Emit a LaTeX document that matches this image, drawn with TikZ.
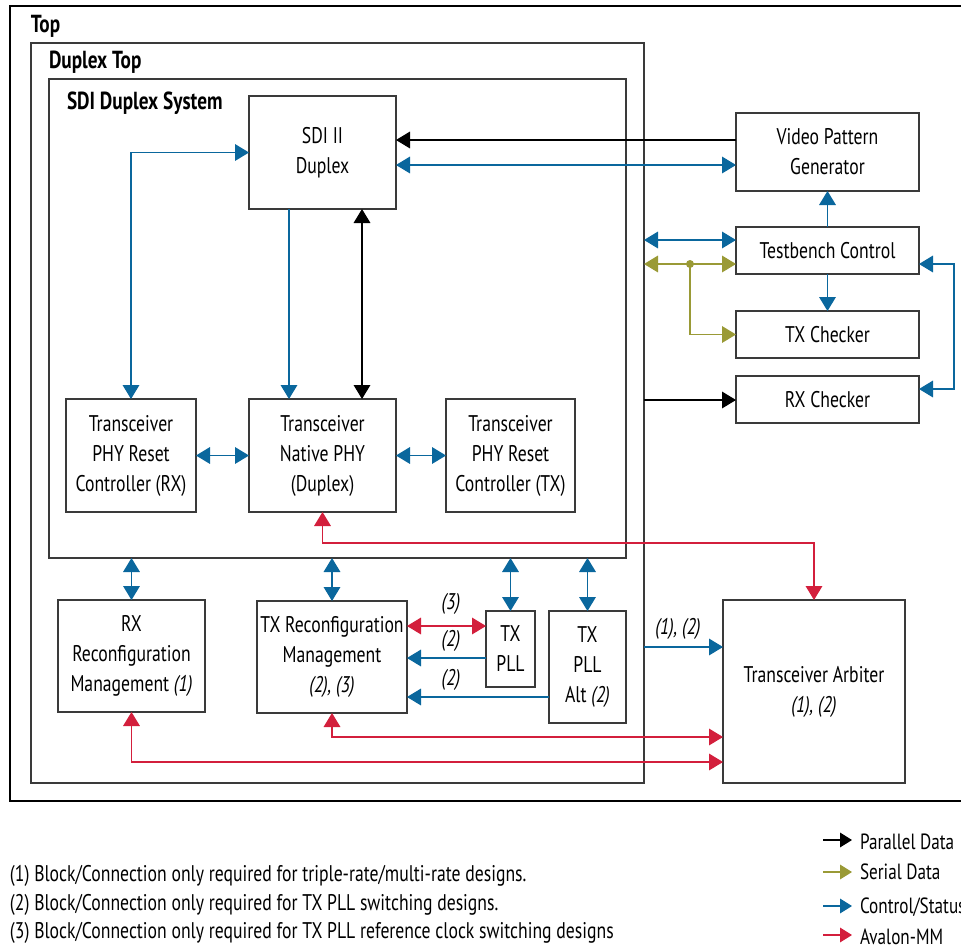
\documentclass[tikz,border=0pt]{standalone}
\usepackage{fontspec}
\setmainfont{PT Sans}[FakeStretch=0.78]
\usetikzlibrary{arrows.meta,fit}

\definecolor{ctlblue}{HTML}{0A679D}
\definecolor{avred}{HTML}{D31F3C}
\definecolor{serolive}{HTML}{9A9A36}
\definecolor{boxgray}{HTML}{3A3A3A}

\begin{document}
\begin{tikzpicture}[x=0.75pt,y=-0.75pt,
  every node/.style={inner sep=0pt, outer sep=0pt},
  txt/.style={font=\fontsize{17}{22.5}\selectfont, align=center},
  box/.style={txt, draw=boxgray, line width=0.9pt, fill=white},
  sz/.style 2 args={minimum width=#1*0.75pt, minimum height=#2*0.75pt},
  frame/.style={draw=boxgray, line width=0.9pt},
  outerframe/.style={draw=black, line width=1.1pt},
  ttl/.style={font=\fontsize{18.5}{20}\selectfont\bfseries, anchor=west},
  note/.style={font=\fontsize{17}{20}\selectfont, anchor=west},
  lgtext/.style={font=\fontsize{16.5}{20}\selectfont, anchor=west},
  tag/.style={font=\fontsize{17}{20}\selectfont\itshape},
  wire/.style={line width=0.9pt},
  par/.style={wire, black, -{Triangle[length=10.5pt,width=12.5pt]}},
  parbi/.style={wire, black, {Triangle[length=10.5pt,width=12.5pt]}-{Triangle[length=10.5pt,width=12.5pt]}},
  ctl/.style={wire, ctlblue, -{Triangle[length=10.5pt,width=12.5pt]}},
  ctlbi/.style={wire, ctlblue, {Triangle[length=10.5pt,width=12.5pt]}-{Triangle[length=10.5pt,width=12.5pt]}},
  ser/.style={wire, serolive, -{Triangle[length=10.5pt,width=12.5pt]}},
  serbi/.style={wire, serolive, {Triangle[length=10.5pt,width=12.5pt]}-{Triangle[length=10.5pt,width=12.5pt]}},
  av/.style={wire, avred, -{Triangle[length=10.5pt,width=12.5pt]}},
  avbi/.style={wire, avred, {Triangle[length=10.5pt,width=12.5pt]}-{Triangle[length=10.5pt,width=12.5pt]}},
  lgd/.style={line width=0.9pt, -{Triangle[length=9pt,width=11pt]}}
]
\useasboundingbox (0,0) rectangle (961,950);

% ---- nested frames ----
\node[outerframe, fit={(10,6) (975,801)}] (top) {};
\node[frame, fit={(31,43) (644,783)}] (dtop) {};
\node[frame, fit={(49,79) (626,558)}] (sys) {};
\node[ttl] at (31,26) {Top};
\node[ttl] at (49,62) {Duplex Top};
\node[ttl] at (67,103) {SDI Duplex System};

% ---- blocks inside the SDI duplex system ----
\node[box, sz={147}{113}] (sdi) at (322.5,152.5) {SDI II\\Duplex};
\node[box, sz={130}{113}] (rstrx) at (131,455.5) {Transceiver\\PHY Reset\\Controller (RX)};
\node[box, sz={147}{113}] (phy) at (322.5,455.5) {Transceiver\\Native PHY\\(Duplex)};
\node[box, sz={129}{113}] (rsttx) at (510.5,455.5) {Transceiver\\PHY Reset\\Controller (TX)};

% ---- reconfiguration and PLL blocks ----
\node[box, sz={147}{112}] (rxr) at (131.5,656) {RX\\Reconfiguration\\Management \textit{(1)}};
\node[box, sz={150}{112}] (txr) at (332,657) {TX Reconfiguration\\Management\\\textit{(2), (3)}};
\node[box, sz={49}{76}] (pll) at (510.5,649) {TX\\PLL};
\node[box, sz={77}{112}] (alt) at (587.5,667) {TX\\PLL\\Alt \textit{(2)}};
\node[box, sz={182}{183}] (arb) at (814,691.5) {Transceiver Arbiter\\\textit{(1), (2)}};

% ---- testbench blocks ----
\node[box, sz={183}{78}] (vpg) at (827.5,152) {Video Pattern\\Generator};
\node[box, sz={183}{47}] (tbc) at (827.5,250.5) {Testbench Control};
\node[box, sz={183}{47}] (txc) at (827.5,334.5) {TX Checker};
\node[box, sz={183}{47}] (rxc) at (827.5,399.5) {RX Checker};

% ---- connections around the SDI II core ----
\draw[ctlbi] (rstrx.north) |- (sdi.west);
\draw[ctl] (sdi.south -| 289,0) -- (phy.north -| 289,0);
\draw[parbi] (sdi.south -| 362,0) -- (phy.north -| 362,0);
\draw[ctlbi] (rstrx.east) -- (phy.west);
\draw[ctlbi] (phy.east) -- (rsttx.west);
\draw[par] (vpg.west |- 0,140) -- (sdi.east |- 0,140);
\draw[ctlbi] (sdi.east |- 0,165) -- (vpg.west |- 0,165);

% ---- Avalon-MM paths to the arbiter ----
\draw[avbi] (phy.south) -- (phy.south |- 0,543) -| (arb.north);
\draw[avbi] (txr.south) |- (arb.west |- 0,737);
\draw[avbi] (rxr.south) |- (arb.west |- 0,762);

% ---- control paths below the system ----
\draw[ctlbi] (sys.south -| rxr.north) -- (rxr.north);
\draw[ctlbi] (sys.south -| txr.north) -- (txr.north);
\draw[ctlbi] (sys.south -| pll.north) -- (pll.north);
\draw[ctlbi] (sys.south -| alt.north) -- (alt.north);
\draw[avbi] (txr.east |- 0,626) -- (pll.west |- 0,626);
\draw[ctl] (pll.west |- 0,658) -- (txr.east |- 0,658);
\draw[ctl] (alt.west |- 0,697) -- (txr.east |- 0,697);
\draw[ctl] (dtop.east |- 0,647) -- (arb.west |- 0,647);
\node[tag] at (451,604) {(3)};
\node[tag] at (451,641) {(2)};
\node[tag] at (451,680) {(2)};
\node[tag] at (678,629) {(1), (2)};

% ---- testbench connections ----
\draw[ctl] (tbc.north) -- (vpg.south);
\draw[ctl] (tbc.south) -- (txc.north);
\draw[ctlbi] (dtop.east |- 0,240) -- (tbc.west |- 0,240);
\coordinate (serjoin) at (690,264);
\draw[serbi] (dtop.east |- 0,264) -- (tbc.west |- 0,264);
\draw[ser] (serjoin) |- (txc.west);
\fill[serolive] (serjoin) circle[radius=4];
\draw[ctlbi] (tbc.east |- 0,264) -- (954,264) |- (rxc.east |- 0,389);
\draw[par] (dtop.east |- 0,400) -- (rxc.west |- 0,400);

% ---- footnotes ----
\node[note] at (10,876) {(1) Block/Connection only required for triple-rate/multi-rate designs.};
\node[note] at (10,905) {(2) Block/Connection only required for TX PLL switching designs.};
\node[note] at (10,933) {(3) Block/Connection only required for TX PLL reference clock switching designs};

% ---- legend ----
\coordinate (lpA) at (823,840); \coordinate (lpB) at (852,840);
\coordinate (lsA) at (823,872); \coordinate (lsB) at (852,872);
\coordinate (lcA) at (823,906); \coordinate (lcB) at (852,906);
\coordinate (laA) at (823,935); \coordinate (laB) at (852,935);
\draw[lgd, black] (lpA) -- (lpB);
\draw[lgd, serolive] (lsA) -- (lsB);
\draw[lgd, ctlblue] (lcA) -- (lcB);
\draw[lgd, avred] (laA) -- (laB);
\node[lgtext] at (860,842) {Parallel Data};
\node[lgtext] at (860,872) {Serial Data};
\node[lgtext] at (860,907) {Control/Status};
\node[lgtext] at (860,937) {Avalon-MM};
\end{tikzpicture}
\end{document}
